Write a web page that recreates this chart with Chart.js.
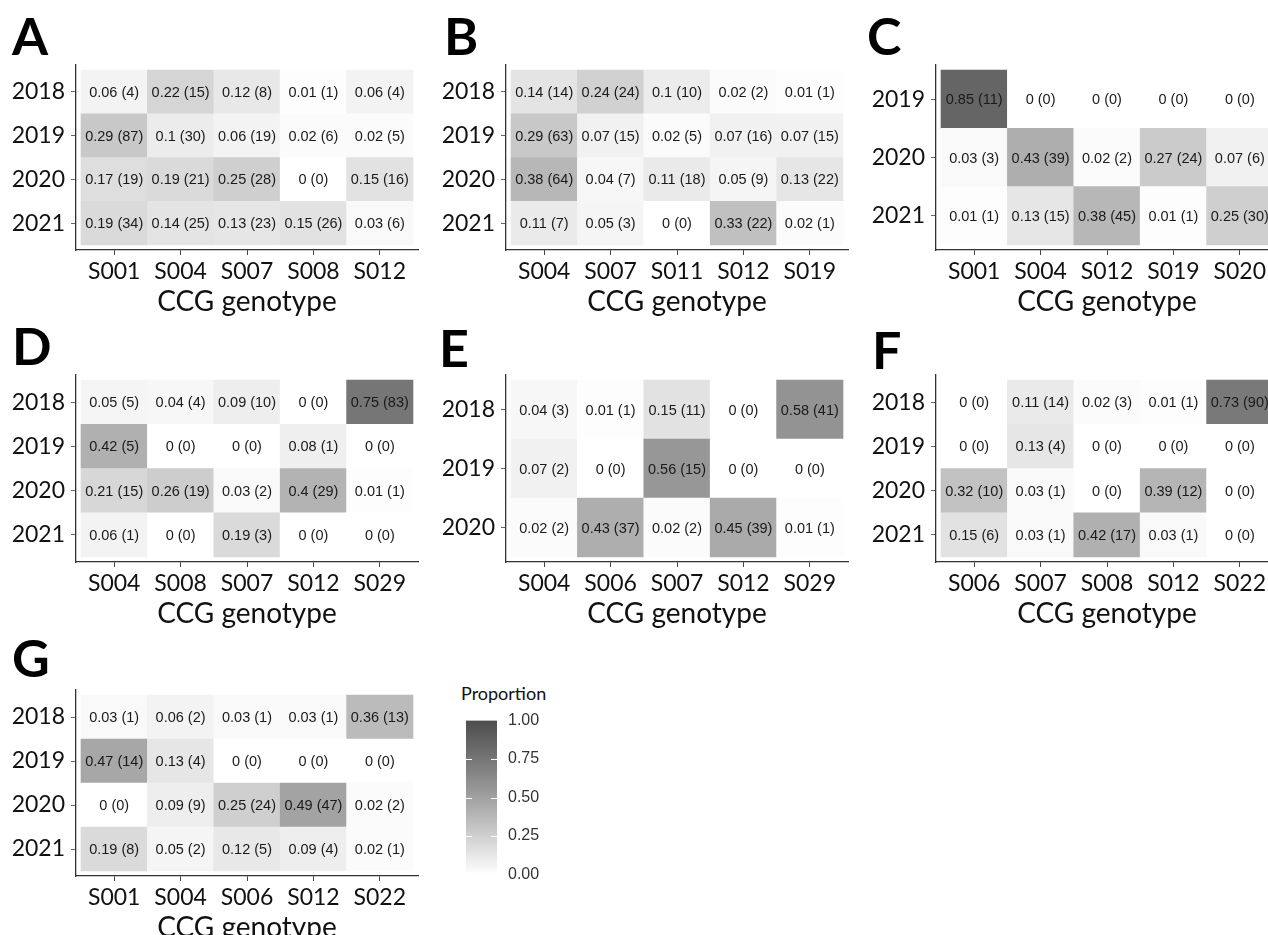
<!DOCTYPE html>
<html>
<head>
<meta charset="utf-8">
<script src="https://cdn.jsdelivr.net/npm/chart.js@4.4.1/dist/chart.umd.min.js"></script>
<style>
  body { margin: 0; background: #fff; width: 1268px; height: 935px; overflow: hidden; position: relative; }
  canvas { position: absolute; }
  .tag { position: absolute; font: 700 52px/52px Lato, sans-serif; color: #000; }
  .legend-title { position: absolute; font: 18px/20px Lato, sans-serif; color: #111; }
</style>
</head>
<body>
<div id="wrap"></div>
<script>
// ---------- data ----------
const genoA = ["S001", "S004", "S007", "S008", "S012"];
const yearsA = ["2018", "2019", "2020", "2021"];
const propA = [[0.06, 0.22, 0.12, 0.01, 0.06], [0.29, 0.1, 0.06, 0.02, 0.02], [0.17, 0.19, 0.25, 0, 0.15], [0.19, 0.14, 0.13, 0.15, 0.03]];
const countA = [[4, 15, 8, 1, 4], [87, 30, 19, 6, 5], [19, 21, 28, 0, 16], [34, 25, 23, 26, 6]];

const genoB = ["S004", "S007", "S011", "S012", "S019"];
const yearsB = ["2018", "2019", "2020", "2021"];
const propB = [[0.14, 0.24, 0.1, 0.02, 0.01], [0.29, 0.07, 0.02, 0.07, 0.07], [0.38, 0.04, 0.11, 0.05, 0.13], [0.11, 0.05, 0, 0.33, 0.02]];
const countB = [[14, 24, 10, 2, 1], [63, 15, 5, 16, 15], [64, 7, 18, 9, 22], [7, 3, 0, 22, 1]];

const genoC = ["S001", "S004", "S012", "S019", "S020"];
const yearsC = ["2019", "2020", "2021"];
const propC = [[0.85, 0, 0, 0, 0], [0.03, 0.43, 0.02, 0.27, 0.07], [0.01, 0.13, 0.38, 0.01, 0.25]];
const countC = [[11, 0, 0, 0, 0], [3, 39, 2, 24, 6], [1, 15, 45, 1, 30]];

const genoD = ["S004", "S008", "S007", "S012", "S029"];
const yearsD = ["2018", "2019", "2020", "2021"];
const propD = [[0.05, 0.04, 0.09, 0, 0.75], [0.42, 0, 0, 0.08, 0], [0.21, 0.26, 0.03, 0.4, 0.01], [0.06, 0, 0.19, 0, 0]];
const countD = [[5, 4, 10, 0, 83], [5, 0, 0, 1, 0], [15, 19, 2, 29, 1], [1, 0, 3, 0, 0]];

const genoE = ["S004", "S006", "S007", "S012", "S029"];
const yearsE = ["2018", "2019", "2020"];
const propE = [[0.04, 0.01, 0.15, 0, 0.58], [0.07, 0, 0.56, 0, 0], [0.02, 0.43, 0.02, 0.45, 0.01]];
const countE = [[3, 1, 11, 0, 41], [2, 0, 15, 0, 0], [2, 37, 2, 39, 1]];

const genoF = ["S006", "S007", "S008", "S012", "S022"];
const yearsF = ["2018", "2019", "2020", "2021"];
const propF = [[0, 0.11, 0.02, 0.01, 0.73], [0, 0.13, 0, 0, 0], [0.32, 0.03, 0, 0.39, 0], [0.15, 0.03, 0.42, 0.03, 0]];
const countF = [[0, 14, 3, 1, 90], [0, 4, 0, 0, 0], [10, 1, 0, 12, 0], [6, 1, 17, 1, 0]];

const genoG = ["S001", "S004", "S006", "S012", "S022"];
const yearsG = ["2018", "2019", "2020", "2021"];
const propG = [[0.03, 0.06, 0.03, 0.03, 0.36], [0.47, 0.13, 0, 0, 0], [0, 0.09, 0.25, 0.49, 0.02], [0.19, 0.05, 0.12, 0.09, 0.02]];
const countG = [[1, 2, 1, 1, 13], [14, 4, 0, 0, 0], [0, 9, 24, 47, 2], [8, 2, 5, 4, 1]];

const legendRange = [0, 1];
const legendTicks = [0, 0.25, 0.5, 0.75, 1];

// ---------- layout of each panel (pixels) ----------
const panels = [
  { tag: "A", geno: genoA, years: yearsA, prop: propA, count: countA, x0: 0,   axisX: 76,  top: 65,  axisY: 250, right: 418,  tagX: 12,  tagY: 9 },
  { tag: "B", geno: genoB, years: yearsB, prop: propB, count: countB, x0: 420, axisX: 506, top: 65,  axisY: 250, right: 848,  tagX: 444, tagY: 9 },
  { tag: "C", geno: genoC, years: yearsC, prop: propC, count: countC, x0: 840, axisX: 936, top: 65,  axisY: 250, right: 1278, tagX: 867, tagY: 9 },
  { tag: "D", geno: genoD, years: yearsD, prop: propD, count: countD, x0: 0,   axisX: 76,  top: 375, axisY: 562, right: 418,  tagX: 12,  tagY: 319 },
  { tag: "E", geno: genoE, years: yearsE, prop: propE, count: countE, x0: 420, axisX: 506, top: 375, axisY: 562, right: 848,  tagX: 439, tagY: 321 },
  { tag: "F", geno: genoF, years: yearsF, prop: propF, count: countF, x0: 840, axisX: 936, top: 375, axisY: 562, right: 1278, tagX: 872, tagY: 323 },
  { tag: "G", geno: genoG, years: yearsG, prop: propG, count: countG, x0: 0,   axisX: 76,  top: 690, axisY: 876, right: 418,  tagX: 12,  tagY: 631 }
];

// white -> gray30, interpolated on L* like ggplot's gradient
function cellColor(p) {
  const L = 100 - p * (100 - 32.7);
  const Y = L > 8 ? Math.pow((L + 16) / 116, 3) : L / 903.3;
  const s = Y <= 0.0031308 ? 12.92 * Y : 1.055 * Math.pow(Y, 1 / 2.4) - 0.055;
  const g = Math.round(Math.max(0, Math.min(1, s)) * 255);
  return `rgb(${g},${g},${g})`;
}

const cellLabels = {
  id: "cellLabels",
  afterDatasetsDraw(chart) {
    const ctx = chart.ctx;
    const ds = chart.data.datasets[0];
    ctx.save();
    ctx.font = '14.5px "Liberation Sans", Arial, sans-serif';
    ctx.fillStyle = "#1a1a1a";
    ctx.textAlign = "center";
    ctx.textBaseline = "middle";
    chart.getDatasetMeta(0).data.forEach((el, i) => {
      const d = ds.data[i];
      ctx.fillText(`${d.p} (${d.n})`, el.x, (el.y + el.base) / 2 + 1);
    });
    ctx.restore();
  }
};

const tickFont = { family: "Lato", size: 23, lineHeight: 1 };

panels.forEach(pn => {
  const padTop = 20, xAxisH = 68;
  const W = pn.right - pn.axisX, H = pn.axisY - pn.top;
  const nCol = pn.geno.length, nRow = pn.years.length;
  const padX = 5 / ((W - 10) / nCol);
  const padY = 5 / ((H - 10) / nRow);

  const tag = document.createElement("div");
  tag.className = "tag";
  tag.textContent = pn.tag;
  tag.style.left = pn.tagX + "px";
  tag.style.top = pn.tagY + "px";
  document.body.appendChild(tag);

  const cv = document.createElement("canvas");
  cv.width = pn.right - pn.x0 + 4;
  cv.height = padTop + H + xAxisH;
  cv.style.left = pn.x0 + "px";
  cv.style.top = (pn.top - padTop) + "px";
  document.body.appendChild(cv);

  const cells = [];
  pn.prop.forEach((row, r) => row.forEach((p, c) => {
    cells.push({ x: c, y: [r - 0.5, r + 0.5], p: p, n: pn.count[r][c] });
  }));

  new Chart(cv, {
    type: "bar",
    data: {
      datasets: [{
        data: cells,
        backgroundColor: c => cellColor(c.raw ? c.raw.p : 0),
        borderWidth: 0,
        barPercentage: 1,
        categoryPercentage: 1
      }]
    },
    options: {
      responsive: false,
      animation: false,
      layout: { padding: { top: padTop, right: 4, left: 0, bottom: 0 } },
      plugins: { legend: { display: false }, tooltip: { enabled: false } },
      scales: {
        x: {
          type: "linear",
          offset: false,
          min: -0.5 - padX,
          max: nCol - 0.5 + padX,
          afterBuildTicks: s => { s.ticks = pn.geno.map((_, i) => ({ value: i })); },
          afterFit: s => { s.height = xAxisH; },
          ticks: { callback: v => pn.geno[v], font: tickFont, color: "#111", padding: 5, maxRotation: 0, autoSkip: false },
          grid: { drawOnChartArea: false, offset: false, tickLength: 5, tickColor: "#444" },
          border: { display: true, color: "#333", width: 1.3 },
          title: { display: true, text: "CCG genotype", color: "#111",
                   font: { family: "Lato", size: 28, lineHeight: 1 }, padding: { top: 0, bottom: 2 } }
        },
        y: {
          type: "linear",
          reverse: true,
          offset: false,
          min: -0.5 - padY,
          max: nRow - 0.5 + padY,
          afterBuildTicks: s => { s.ticks = pn.years.map((_, i) => ({ value: i })); },
          afterFit: s => { s.width = pn.axisX - pn.x0; },
          ticks: { callback: v => pn.years[v], font: tickFont, color: "#111", padding: 6, autoSkip: false },
          grid: { drawOnChartArea: false, offset: false, tickLength: 5, tickColor: "#666" },
          border: { display: true, color: "#333", width: 1.3 }
        }
      }
    },
    plugins: [cellLabels]
  });
});

// ---------- colour bar legend ----------
const lt = document.createElement("div");
lt.className = "legend-title";
lt.textContent = "Proportion";
lt.style.left = "461px";
lt.style.top = "683px";
document.body.appendChild(lt);

const legendMarks = {
  id: "legendMarks",
  afterDatasetsDraw(chart) {
    const ctx = chart.ctx, a = chart.chartArea, y = chart.scales.y;
    ctx.save();
    ctx.strokeStyle = "#fff";
    ctx.lineWidth = 1;
    [0.25, 0.5, 0.75].forEach(v => {
      const py = Math.round(y.getPixelForValue(v)) + 0.5;
      ctx.beginPath();
      ctx.moveTo(a.left, py); ctx.lineTo(a.left + 6, py);
      ctx.moveTo(a.right - 6, py); ctx.lineTo(a.right, py);
      ctx.stroke();
    });
    ctx.restore();
  }
};

const lc = document.createElement("canvas");
lc.width = 100;
lc.height = 195;
lc.style.left = "458px";
lc.style.top = "700px";
document.body.appendChild(lc);

new Chart(lc, {
  type: "bar",
  data: {
    labels: [""],
    datasets: [{
      data: [legendRange],
      backgroundColor: c => {
        const a = c.chart.chartArea;
        if (!a) return "#999";
        const g = c.chart.ctx.createLinearGradient(0, a.bottom, 0, a.top);
        for (let i = 0; i <= 20; i++) g.addColorStop(i / 20, cellColor(i / 20));
        return g;
      },
      borderWidth: 0,
      barPercentage: 1,
      categoryPercentage: 1
    }]
  },
  options: {
    responsive: false,
    animation: false,
    layout: { padding: { top: 16, bottom: 19, left: 8, right: 0 } },
    plugins: { legend: { display: false }, tooltip: { enabled: false } },
    scales: {
      x: { display: false },
      y: {
        position: "right",
        min: legendRange[0],
        max: legendRange[1],
        afterBuildTicks: s => { s.ticks = legendTicks.map(v => ({ value: v })); },
        afterFit: s => { s.width = 61; },
        ticks: { callback: v => v.toFixed(2), font: { family: "Liberation Sans", size: 16 }, color: "#333", padding: 11 },
        grid: { display: false, drawTicks: false },
        border: { display: false }
      }
    }
  },
  plugins: [legendMarks]
});
</script>
</body>
</html>
